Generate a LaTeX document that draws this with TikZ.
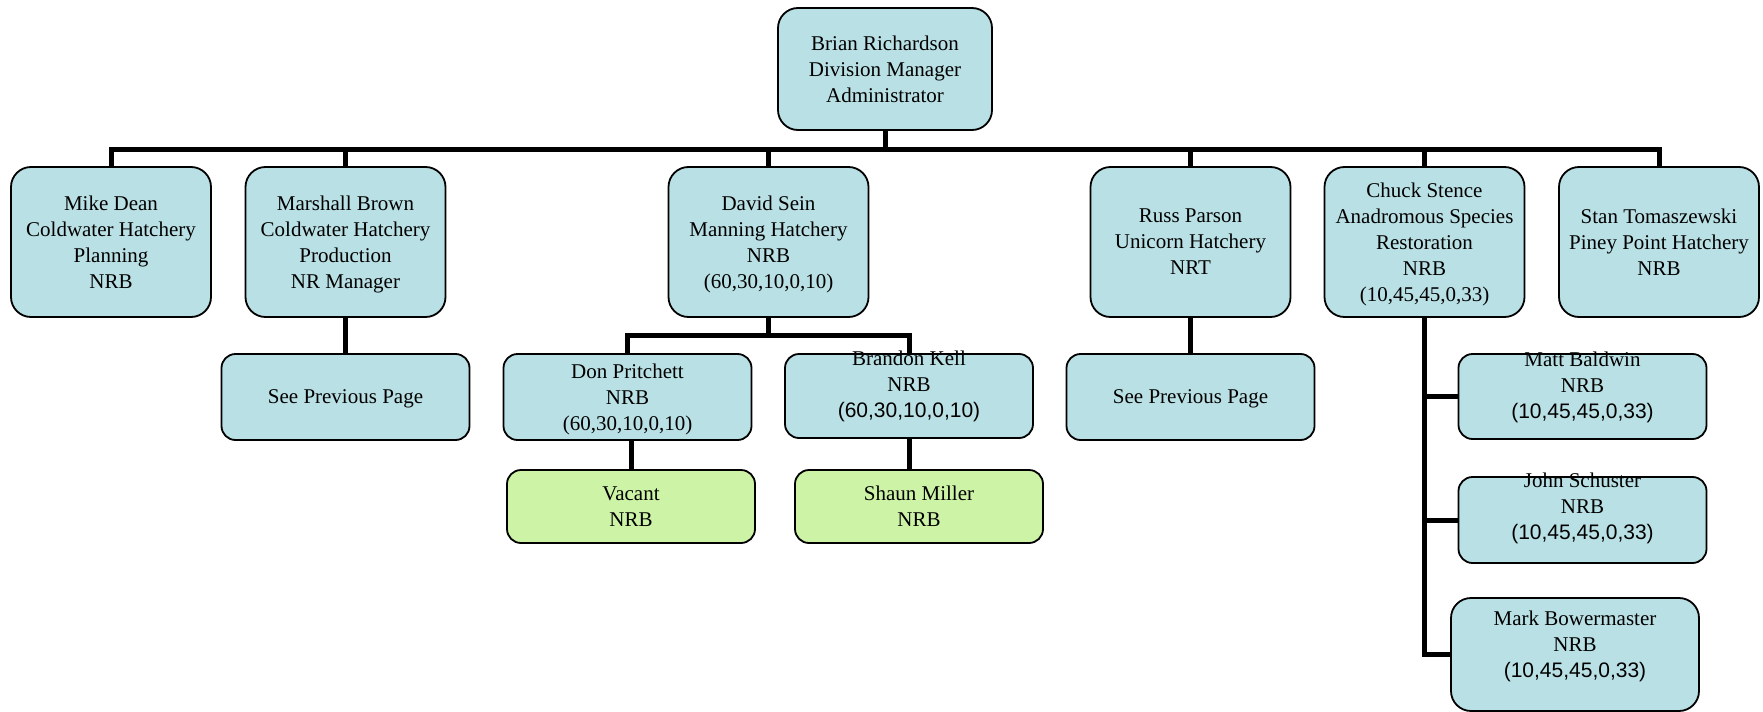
\documentclass[tikz,border=0pt]{standalone}
\usepackage{fontspec}
\setmainfont{Liberation Serif}
\newfontfamily\arialfont{Liberation Sans}

\definecolor{boxblue}{RGB}{185,224,228}
\definecolor{boxgreen}{RGB}{204,243,166}

\tikzset{
  orgbox/.style={draw=black, line width=0.9pt, fill=boxblue, rounded corners=10pt,
    minimum width=100pt, minimum height=75pt, inner sep=0pt, align=center,
    text depth=0pt, font=\fontsize{10.5}{13}\selectfont},
  subbox/.style={orgbox, rounded corners=7pt, minimum width=124pt, minimum height=43pt},
  greenbox/.style={subbox, fill=boxgreen, minimum height=36.5pt},
  txt/.style={inner sep=0pt, align=center, font=\fontsize{10.5}{13}\selectfont},
  conn/.style={line width=2.5pt, line join=miter}
}

\begin{document}
\begin{tikzpicture}[x=0.5pt,y=0.5pt,yscale=-1]
\useasboundingbox (0,0) rectangle (1763,712);

%Shapes: first row
\node[orgbox, minimum width=107pt, minimum height=61pt] (brian) at (885,69) {Brian Richardson\\Division Manager\\Administrator};
\node[orgbox] (mike) at (111,242) {Mike Dean\\Coldwater Hatchery\\Planning\\NRB};
\node[orgbox] (marshall) at (345.5,242) {Marshall Brown\\Coldwater Hatchery\\Production\\NR Manager};
\node[orgbox] (david) at (768.5,242) {David Sein\\Manning Hatchery\\NRB\\(60,30,10,0,10)};
\node[orgbox] (russ) at (1190.5,242) {Russ Parson\\Unicorn Hatchery\\NRT};
\node[orgbox] (chuck) at (1424.5,242) {Chuck Stence\\Anadromous Species\\Restoration\\NRB\\(10,45,45,0,33)};
\node[orgbox] (stan) at (1659,242) {Stan Tomaszewski\\Piney Point Hatchery\\NRB};

%Shapes: second row
\node[subbox] (prev1) at (345.5,397) {See Previous Page};
\node[subbox] (don) at (627.5,397) {Don Pritchett\\NRB\\(60,30,10,0,10)};
\node[subbox, minimum height=42pt] (brandon) at (909,396) {};
\node[subbox] (prev2) at (1190.5,397) {See Previous Page};
\node[subbox, minimum height=42.5pt] (matt) at (1582.5,396.5) {};
\node[subbox] (john) at (1582.5,520) {};
\node[subbox, rounded corners=10pt, minimum height=56.5pt] (mark) at (1575,654.5) {};
\node[greenbox] (vacant) at (631,506.5) {Vacant\\NRB};
\node[greenbox] (shaun) at (919,506.5) {Shaun Miller\\NRB};

%Connectors
\coordinate (bus) at (885,149);
\coordinate (dbus) at (768.5,335);
\draw[conn] (brian.south) -- (bus);
\draw[conn] (mike.north) |- (bus) -| (stan.north);
\foreach \n in {marshall,david,russ,chuck}
  \draw[conn] (\n.north) -- (\n.north |- bus);
\draw[conn] (marshall.south) -- (prev1.north);
\draw[conn] (russ.south) -- (prev2.north);
\draw[conn] (david.south) -- (dbus);
\draw[conn] (don.north) |- (dbus) -| (brandon.north);
\draw[conn] (vacant.north) -- (vacant.north |- don.south);
\draw[conn] (brandon.south) -- (brandon.south |- shaun.north);
\draw[conn] (chuck.south) |- (mark.west);
\draw[conn] (chuck.south |- matt.west) -- (matt.west);
\draw[conn] (chuck.south |- john.west) -- (john.west);

% Text Nodes
\node[txt] (brandonT) at (909,386) {Brandon Kell\\NRB\\{\arialfont (60,30,10,0,10)}};
\node[txt] (mattT) at (1582.5,387) {Matt Baldwin\\NRB\\{\arialfont (10,45,45,0,33)}};
\node[txt] (johnT) at (1582.5,508) {John Schuster\\NRB\\{\arialfont (10,45,45,0,33)}};
\node[txt] (markT) at (1575,646) {Mark Bowermaster\\NRB\\{\arialfont (10,45,45,0,33)}};

\end{tikzpicture}
\end{document}
